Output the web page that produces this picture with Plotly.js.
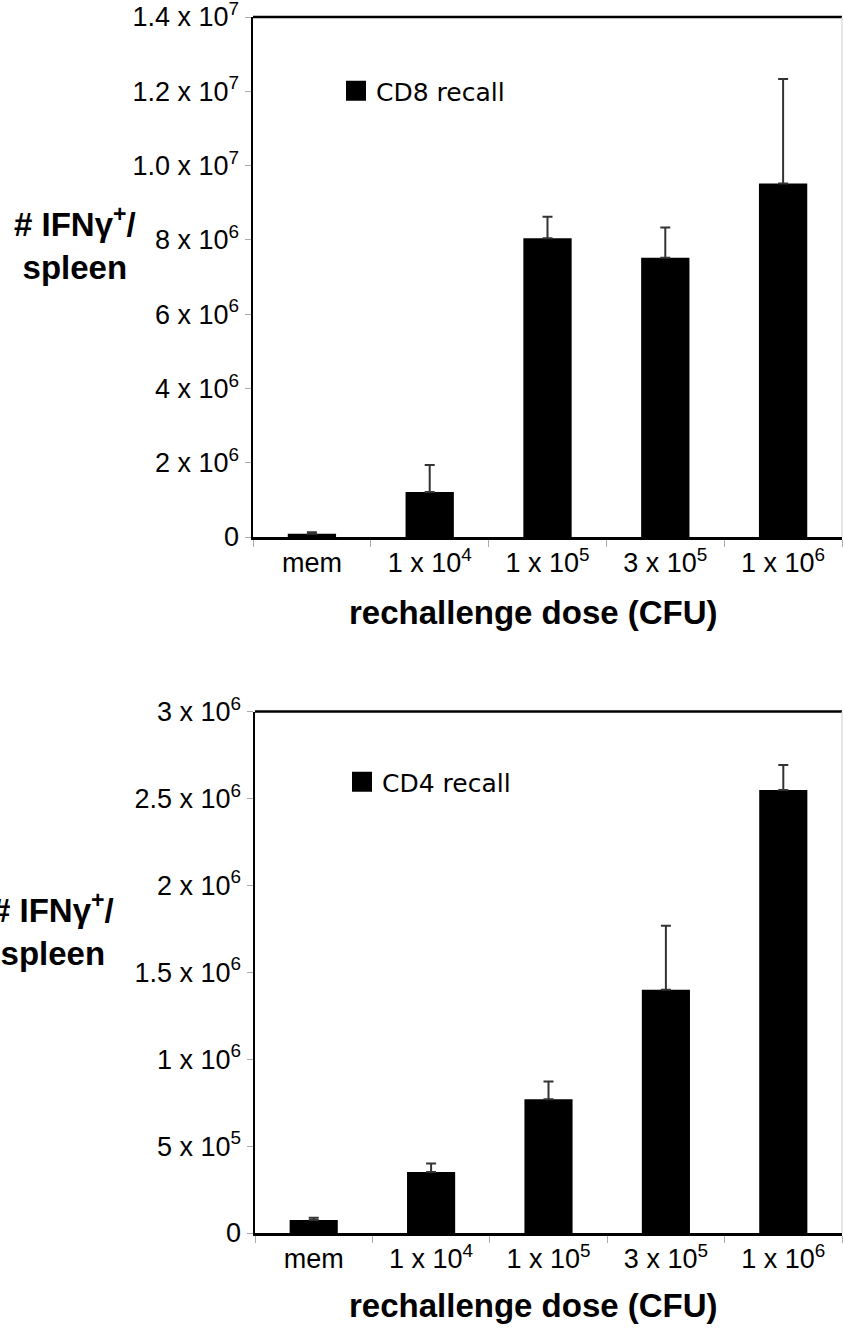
<!DOCTYPE html>
<html>
<head>
<meta charset="utf-8">
<script src="https://cdn.plot.ly/plotly-3.0.1.min.js"></script>
<style>html,body{margin:0;padding:0;background:#fff;}#chart{width:843px;height:1332px;}</style>
</head>
<body>
<div id="chart"></div>
<script>
// ---- data ----
const categories = ["mem", "1 x 10<sup>4</sup>", "1 x 10<sup>5</sup>", "3 x 10<sup>5</sup>", "1 x 10<sup>6</sup>"];
const cd8Values = [0.09e6, 1.21e6, 8.04e6, 7.52e6, 9.52e6];
const cd8Errors = [0.04e6, 0.73e6, 0.58e6, 0.81e6, 2.81e6];
const cd4Values = [0.075e6, 0.351e6, 0.770e6, 1.399e6, 2.548e6];
const cd4Errors = [0.013e6, 0.049e6, 0.102e6, 0.369e6, 0.144e6];
const cd8TickVals = [0, 2e6, 4e6, 6e6, 8e6, 1.0e7, 1.2e7, 1.4e7];
const cd8TickText = ["0", "2 x 10<sup>6</sup>", "4 x 10<sup>6</sup>", "6 x 10<sup>6</sup>", "8 x 10<sup>6</sup>",
  "1.0 x 10<sup>7</sup>", "1.2 x 10<sup>7</sup>", "1.4 x 10<sup>7</sup>"];
const cd4TickVals = [0, 5e5, 1e6, 1.5e6, 2e6, 2.5e6, 3e6];
const cd4TickText = ["0", "5 x 10<sup>5</sup>", "1 x 10<sup>6</sup>", "1.5 x 10<sup>6</sup>", "2 x 10<sup>6</sup>",
  "2.5 x 10<sup>6</sup>", "3 x 10<sup>6</sup>"];
const cd8Name = "CD8 recall";
const cd4Name = "CD4 recall";
const yTitle = "# IFNγ<sup>+</sup>/<br>spleen";
const xTitle = "rechallenge dose (CFU)";

const ARIAL = "Liberation Sans, Arial, sans-serif";
const VERD = "DejaVu Sans, Verdana, sans-serif";
const H = 1332, W = 843;

const errStyle = {type: 'data', symmetric: false, color: '#333', thickness: 2, width: 5};

const traces = [
  {type: 'bar', x: categories, y: cd8Values, name: cd8Name, xaxis: 'x', yaxis: 'y',
   marker: {color: '#000', line: {color: '#000', width: 0}},
   error_y: Object.assign({array: cd8Errors, arrayminus: cd8Values.map(() => 0)}, errStyle),
   legend: 'legend', showlegend: true, hoverinfo: 'x+y'},
  {type: 'bar', x: categories, y: cd4Values, name: cd4Name, xaxis: 'x2', yaxis: 'y2',
   marker: {color: '#000', line: {color: '#000', width: 0}},
   error_y: Object.assign({array: cd4Errors, arrayminus: cd4Values.map(() => 0)}, errStyle),
   legend: 'legend2', showlegend: true, hoverinfo: 'x+y'}
];

function xAxis(domain, anchor) {
  return {
    domain: domain, anchor: anchor, type: 'category', range: [-0.5, 4.5],
    showline: true, linecolor: '#000', linewidth: 2.5,
    ticks: 'outside', tickson: 'boundaries', ticklen: 7, tickwidth: 1, tickcolor: '#aaa',
    tickfont: {family: ARIAL, size: 27, color: '#000'},
    showgrid: false, zeroline: false, fixedrange: true
  };
}
function yAxis(domain, anchor, range, vals, text) {
  return {
    domain: domain, anchor: anchor, range: range,
    tickmode: 'array', tickvals: vals, ticktext: text,
    ticklabeloverflow: 'allow',
    showline: true, linecolor: '#000', linewidth: 2.5,
    ticks: 'outside', ticklen: 6, tickwidth: 1, tickcolor: '#aaa',
    tickfont: {family: ARIAL, size: 27, color: '#000'},
    showgrid: false, zeroline: false, fixedrange: true
  };
}

const topDom = [1 - 537 / H, 1 - 17 / H];
const botDom = [1 - 1233 / H, 1 - 711.5 / H];

const layout = {
  width: W, height: H, autosize: false,
  margin: {l: 0, r: 0, t: 0, b: 0},
  paper_bgcolor: '#fff', plot_bgcolor: '#fff',
  bargap: 0.59,
  xaxis: xAxis([253 / W, 842 / W], 'y'),
  yaxis: yAxis(topDom, 'x', [0, 1.4e7], cd8TickVals, cd8TickText),
  xaxis2: xAxis([255 / W, 842 / W], 'y2'),
  yaxis2: yAxis(botDom, 'x2', [0, 3e6], cd4TickVals, cd4TickText),
  legend: {x: 336 / W, y: 1 - 68 / H, xanchor: 'left', yanchor: 'top', bgcolor: 'rgba(0,0,0,0)',
    font: {family: VERD, size: 25, color: '#000'}},
  legend2: {x: 342 / W, y: 1 - 759 / H, xanchor: 'left', yanchor: 'top', bgcolor: 'rgba(0,0,0,0)',
    font: {family: VERD, size: 25, color: '#000'}},
  shapes: [
    {type: 'line', xref: 'x domain', yref: 'y domain', x0: 0, x1: 1, y0: 1, y1: 1, line: {color: '#000', width: 2.5}},
    {type: 'line', xref: 'x domain', yref: 'y domain', x0: 1, x1: 1, y0: 0, y1: 1, line: {color: '#ccc', width: 1}},
    {type: 'line', xref: 'x2 domain', yref: 'y2 domain', x0: 0, x1: 1, y0: 1, y1: 1, line: {color: '#000', width: 2.5}},
    {type: 'line', xref: 'x2 domain', yref: 'y2 domain', x0: 1, x1: 1, y0: 0, y1: 1, line: {color: '#ccc', width: 1}}
  ],
  annotations: [
    {text: yTitle, xref: 'paper', yref: 'paper', x: 75 / W, y: 1 - 244 / H, xanchor: 'center', yanchor: 'middle',
     showarrow: false, align: 'center', font: {family: ARIAL, size: 33, color: '#000', weight: 'bold'}},
    {text: yTitle, xref: 'paper', yref: 'paper', x: 53 / W, y: 1 - 929 / H, xanchor: 'center', yanchor: 'middle',
     showarrow: false, align: 'center', font: {family: ARIAL, size: 33, color: '#000', weight: 'bold'}},
    {text: xTitle, xref: 'paper', yref: 'paper', x: 533 / W, y: 1 - 612 / H, xanchor: 'center', yanchor: 'middle',
     showarrow: false, font: {family: ARIAL, size: 33, color: '#000', weight: 'bold'}},
    {text: xTitle, xref: 'paper', yref: 'paper', x: 533 / W, y: 1 - 1305 / H, xanchor: 'center', yanchor: 'middle',
     showarrow: false, font: {family: ARIAL, size: 33, color: '#000', weight: 'bold'}}
  ]
};

Plotly.newPlot('chart', traces, layout, {staticPlot: true, displayModeBar: false}).then(function () {
  document.querySelectorAll('.legendpoints path').forEach(function (p) {
    p.setAttribute('d', 'M10,10H-10V-10H10Z');
    p.style.strokeWidth = '0px';
  });
});
</script>
</body>
</html>
